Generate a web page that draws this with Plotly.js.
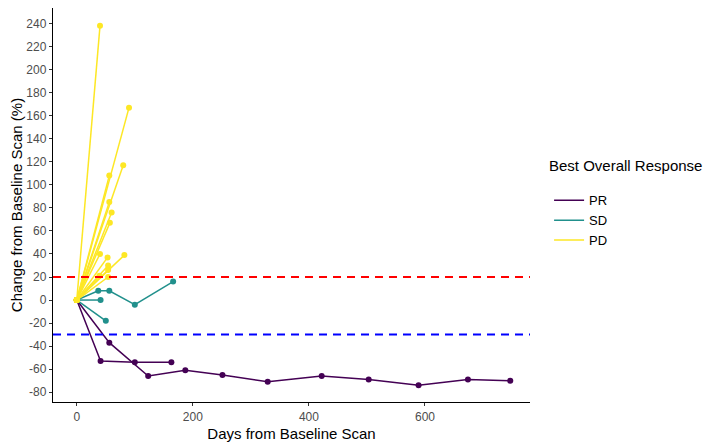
<!DOCTYPE html>
<html>
<head>
<meta charset="utf-8">
<script src="https://cdn.plot.ly/plotly-3.0.1.min.js"></script>
<style>html,body{margin:0;padding:0;background:#fff;}#chart{width:714px;height:446px;}</style>
</head>
<body>
<div id="chart"></div>
<script>
// Response categories
const categories = ["PR", "SD", "PD"];
const colors = {PR: "#440154", SD: "#21908C", PD: "#FDE725"};
const legendTitle = "Best Overall Response";

// Per-patient series (days from baseline, % change)
const prDays = [
  [0, 56, 123, 187, 251, 329, 422, 503, 589, 674, 747],
  [0, 41, 100, 163]
];
const prChange = [
  [0, -37, -66, -61, -65, -71, -66, -69, -74, -69, -70],
  [0, -53, -54, -54]
];
const sdDays = [
  [0, 37, 56, 100, 166],
  [0, 41],
  [0, 50]
];
const sdChange = [
  [0, 8, 8, -4, 16],
  [0, 0],
  [0, -18]
];
const pdDays = [
  [0, 40], [0, 90], [0, 80], [0, 56], [0, 56], [0, 60], [0, 57],
  [0, 40], [0, 53], [0, 82], [0, 54], [0, 54], [0, 39], [0, 54]
];
const pdChange = [
  [0, 238], [0, 167], [0, 117], [0, 85], [0, 108], [0, 76], [0, 67],
  [0, 40], [0, 37], [0, 39], [0, 30], [0, 26], [0, 21], [0, 20]
];

// Reference thresholds
const pdThreshold = 20;
const prThreshold = -30;

const xTicks = [0, 200, 400, 600];
const yTicks = [-80, -60, -40, -20, 0, 20, 40, 60, 80, 100, 120, 140, 160, 180, 200, 220, 240];

function flatten(daysArr, changeArr) {
  const x = [], y = [];
  daysArr.forEach((d, i) => {
    d.forEach((v, j) => { x.push(v); y.push(changeArr[i][j]); });
    x.push(null); y.push(null);
  });
  return {x, y};
}

const groups = {PR: [prDays, prChange], SD: [sdDays, sdChange], PD: [pdDays, pdChange]};
const traces = [];
categories.forEach(cat => {
  const f = flatten(groups[cat][0], groups[cat][1]);
  traces.push({
    x: f.x, y: f.y, type: "scatter", mode: "lines", name: cat,
    line: {color: colors[cat], width: 1.5}, connectgaps: false,
    showlegend: true, hoverinfo: "skip"
  });
  traces.push({
    x: f.x, y: f.y, type: "scatter", mode: "markers", name: cat,
    marker: {color: colors[cat], size: 6}, showlegend: false
  });
});

const layout = {
  width: 714, height: 446,
  margin: {l: 53, r: 184, t: 8, b: 44},
  paper_bgcolor: "#fff", plot_bgcolor: "#fff",
  font: {family: "Liberation Sans, Arial, sans-serif", size: 12, color: "#000"},
  xaxis: {
    range: [-41, 781], tickvals: xTicks, ticktext: xTicks.map(String),
    showgrid: false, zeroline: false, showline: true, linecolor: "#000", linewidth: 1.2,
    ticks: "outside", ticklen: 3, tickcolor: "#333", tickwidth: 1,
    tickfont: {size: 12, color: "#4D4D4D"},
    title: {text: "Days from Baseline Scan", font: {size: 15, color: "#000"}, standoff: 6}
  },
  yaxis: {
    range: [-88.5, 253.5], tickvals: yTicks, ticktext: yTicks.map(String),
    showgrid: false, zeroline: false, showline: true, linecolor: "#000", linewidth: 1.2,
    ticks: "outside", ticklen: 3, tickcolor: "#333", tickwidth: 1,
    tickfont: {size: 12, color: "#4D4D4D"},
    title: {text: "Change from Baseline Scan (%)", font: {size: 15, color: "#000"}, standoff: 0}
  },
  shapes: [
    {type: "line", xref: "paper", x0: 0, x1: 1, yref: "y", y0: pdThreshold, y1: pdThreshold,
     line: {color: "#FF0000", width: 2, dash: "8px,6px"}, layer: "above"},
    {type: "line", xref: "paper", x0: 0, x1: 1, yref: "y", y0: prThreshold, y1: prThreshold,
     line: {color: "#0000FF", width: 2, dash: "8px,6px"}, layer: "above"}
  ],
  annotations: [
    {text: legendTitle, xref: "paper", yref: "paper", x: 1.036, y: 0.6015,
     xanchor: "left", yanchor: "middle", showarrow: false,
     font: {size: 15, color: "#000"}}
  ],
  legend: {
    x: 1.04, xanchor: "left", y: 0.55, yanchor: "top",
    font: {size: 13, color: "#000"}, tracegroupgap: 1, bgcolor: "rgba(0,0,0,0)",
    itemwidth: 30
  },
  showlegend: true
};

Plotly.newPlot("chart", traces, layout, {displayModeBar: false, staticPlot: true});
</script>
</body>
</html>
